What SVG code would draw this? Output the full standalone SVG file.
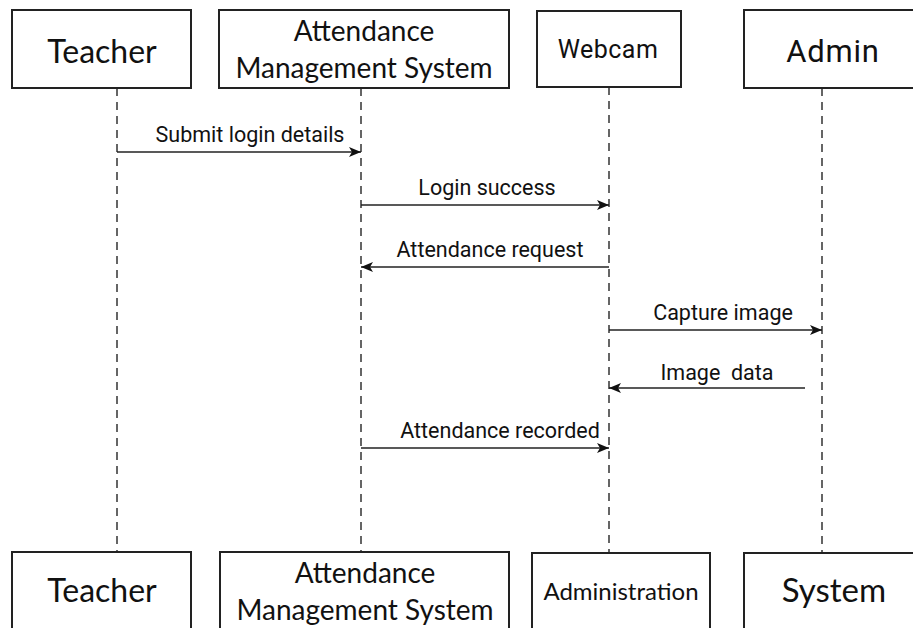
<svg xmlns="http://www.w3.org/2000/svg" width="913" height="628" viewBox="0 0 913 628">
<defs>
<style>
.box{fill:#fff;stroke:#222;stroke-width:2}
.life{stroke:#333;stroke-width:1.5;stroke-dasharray:8 6;fill:none}
.msg{stroke:#222;stroke-width:1.5;fill:none}
.cal{font-family:Lato,"Open Sans",sans-serif;fill:#111;text-anchor:middle}
.gro{font-family:Roboto,"Liberation Sans",sans-serif;fill:#111;text-anchor:middle}
.lbl{font-family:Roboto,"Liberation Sans",sans-serif;font-size:21.5px;fill:#111;text-anchor:middle}
</style>
<marker id="ah" viewBox="0 0 12 10" refX="12" refY="5" markerWidth="12" markerHeight="10" markerUnits="userSpaceOnUse" orient="auto">
<path d="M0,0 L12,5 L0,10 L3,5 Z" fill="#111"/>
</marker>
</defs>
<rect width="913" height="628" fill="#fff"/>
<g id="connectors">
<line class="life" x1="117" y1="88" x2="117" y2="552"/>
<line class="life" x1="361" y1="88" x2="361" y2="552"/>
<line class="life" x1="609" y1="87" x2="609" y2="553"/>
<line class="life" x1="822" y1="88" x2="822" y2="553"/>
<line class="msg" x1="117" y1="152" x2="361" y2="152" marker-end="url(#ah)"/>
<line class="msg" x1="361" y1="205" x2="609" y2="205" marker-end="url(#ah)"/>
<line class="msg" x1="609" y1="267" x2="361" y2="267" marker-end="url(#ah)"/>
<line class="msg" x1="609" y1="330" x2="822" y2="330" marker-end="url(#ah)"/>
<line class="msg" x1="805" y1="388" x2="609" y2="388" marker-end="url(#ah)"/>
<line class="msg" x1="361" y1="448" x2="609" y2="448" marker-end="url(#ah)"/>
<text class="lbl" x="250" y="142">Submit login details</text>
<text class="lbl" x="487" y="195">Login success</text>
<text class="lbl" x="490" y="257">Attendance request</text>
<text class="lbl" x="723" y="320">Capture image</text>
<text class="lbl" x="717" y="380" xml:space="preserve">Image  data</text>
<text class="lbl" x="500" y="438">Attendance recorded</text>
</g>
<g id="teacher-top">
<rect class="box" x="12" y="10" width="179" height="78"/>
<text class="cal" x="102" y="63" font-size="32">Teacher</text>
</g>
<g id="ams-top">
<rect class="box" x="219" y="10" width="290" height="78"/>
<text class="cal" x="364" y="41" font-size="28">Attendance</text>
<text class="cal" x="364" y="78" font-size="28">Management System</text>
</g>
<g id="webcam-top">
<rect class="box" x="537" y="11" width="144" height="76"/>
<text class="gro" x="608" y="58" font-size="25" letter-spacing="0.5">Webcam</text>
</g>
<g id="admin-top">
<rect class="box" x="744" y="10" width="179" height="78"/>
<text class="gro" x="833" y="62" font-size="31" letter-spacing="0.8">Admin</text>
</g>
<g id="teacher-bottom">
<rect class="box" x="12" y="552" width="179" height="90"/>
<text class="cal" x="102" y="602" font-size="32">Teacher</text>
</g>
<g id="ams-bottom">
<rect class="box" x="220" y="552" width="289" height="90"/>
<text class="cal" x="365" y="583" font-size="28">Attendance</text>
<text class="cal" x="365" y="620" font-size="28">Management System</text>
</g>
<g id="administration-bottom">
<rect class="box" x="532" y="553" width="178" height="90"/>
<text class="cal" x="621" y="600" font-size="24">Administration</text>
</g>
<g id="system-bottom">
<rect class="box" x="744" y="553" width="179" height="90"/>
<text class="cal" x="834" y="602" font-size="33">System</text>
</g>
</svg>
